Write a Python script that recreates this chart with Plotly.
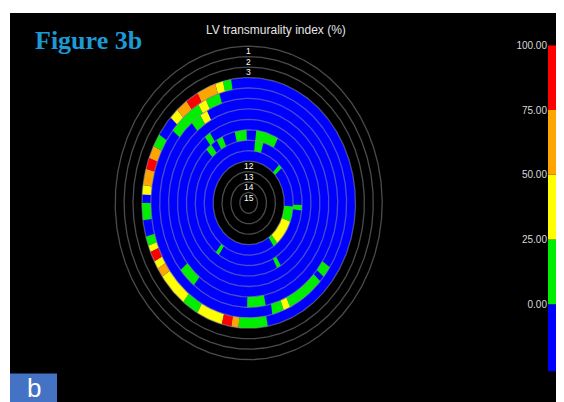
import numpy as np
import plotly.graph_objects as go

W, H = 564, 402
OFF = 8  # page offset of the figure (body margin)

# ---------------- data ----------------
# Bands numbered from the outside (1) to the centre (15); band k spans radius 15-k .. 16-k
n_rings = 15
label_rings = [1, 2, 3, 12, 13, 14, 15]
colored_rings = [4, 5, 6, 7, 8, 9, 10, 11]   # rings with transmurality data (blue = 0 %)

# scar segments: ring, start angle, end angle (deg clockwise from 12 o'clock), transmurality (%)
seg_ring = [4, 4, 4, 4, 4, 4, 4, 4, 4, 4, 4, 4, 4, 4, 4, 4, 4, 4, 4, 4, 4, 4, 4,
            5, 5, 5, 5, 5, 5, 5,
            6, 6, 6, 6,
            8,
            9, 9, 9, 9, 9,
            10, 10, 10,
            11, 11, 11, 11]
seg_start = [346, 341.7, 331.2, 324.4, 318, 313, 297, 291, 285.8, 278.2, 273.9, 262, 250, 246.9,
             242.2, 238.4, 233.9, 217.8, 208.7, 194.6, 189.4, 185.5, 169.7,
             334, 329, 309, 159, 155, 133, 124,
             327, 320, 218, 169,
             322,
             329, 317, 347, 7, 149,
             7, 92, 214,
             43, 94, 111, 140]
seg_end = [350.5, 346, 341.7, 331.2, 324.4, 318, 303, 297, 291, 285.8, 278.2, 270, 254.4, 250,
           246.9, 242.2, 238.4, 233.9, 217.8, 208.7, 194.6, 189.4, 185.5,
           342.5, 334, 329, 166, 159, 155, 130,
           332, 327, 230, 181,
           327,
           335, 323, 358, 28, 153,
           16, 97, 218,
           48, 111, 140, 146]
seg_value = [15, 40, 60, 90, 60, 40, 15, 60, 90, 60, 40, 15, 15, 40,
             90, 40, 60, 40, 15, 40, 90, 60, 15,
             15, 40, 15, 15, 40, 15, 15,
             40, 15, 15, 15,
             15,
             15, 15, 15, 15, 15,
             15, 15, 15,
             15, 15, 40, 15]

# colour scale (legend)
cb_low = [-26, 0, 25, 50, 75]
cb_high = [0, 25, 50, 75, 100]
cb_colors = ["#0000ff", "#00ee00", "#ffff00", "#ffa500", "#ff0000"]
cb_tickvals = [0, 25, 50, 75, 100]
cb_ticktext = ["0.00", "25.00", "50.00", "75.00", "100.00"]


def bin_color(v):
    if v <= 0:
        return cb_colors[0]
    for lo, hi, c in zip(cb_low, cb_high, cb_colors):
        if lo < v <= hi:
            return c
    return cb_colors[-1]


def arc_poly(r_in, r_out, a0, a1):
    n = max(int(abs(a1 - a0) * 2) + 2, 4)
    t = np.radians(np.linspace(a0, a1, n))
    xs = np.concatenate([r_out * np.sin(t), r_in * np.sin(t[::-1])])
    ys = np.concatenate([r_out * np.cos(t), r_in * np.cos(t[::-1])])
    xs = np.append(xs, xs[0])
    ys = np.append(ys, ys[0])
    return list(xs), list(ys)


def px(x):   # page x pixel -> paper fraction
    return (x - OFF) / W


def py(y):   # page y pixel -> paper fraction
    return 1 - (y - OFF) / H


fig = go.Figure()

# blue base (0 %) annulus for all data rings
r_outer = 16 - min(colored_rings)
r_inner = 15 - max(colored_rings)
t = np.radians(np.linspace(0, 360, 721))
bx = list(r_outer * np.sin(t)) + list(r_inner * np.sin(t[::-1]))
by = list(r_outer * np.cos(t)) + list(r_inner * np.cos(t[::-1]))
fig.add_trace(go.Scatter(x=bx, y=by, mode="lines", fill="toself",
                         fillcolor=bin_color(0), line=dict(width=0),
                         hoverinfo="skip", showlegend=False))

# scar segments, one trace per colour
groups = {}
for rg, a0, a1, v in zip(seg_ring, seg_start, seg_end, seg_value):
    c = bin_color(v)
    xs, ys = arc_poly(15 - rg, 16 - rg, a0, a1)
    gx, gy = groups.setdefault(c, ([], []))
    gx.extend(xs + [None])
    gy.extend(ys + [None])
for c, (gx, gy) in groups.items():
    fig.add_trace(go.Scatter(x=gx, y=gy, mode="lines", fill="toself",
                             fillcolor=c, line=dict(width=0),
                             hoverinfo="skip", showlegend=False))

# ring outlines
cx, cy = [], []
for k in range(1, n_rings + 1):
    cx.extend(list(k * np.sin(t)) + [None])
    cy.extend(list(k * np.cos(t)) + [None])
fig.add_trace(go.Scatter(x=cx, y=cy, mode="lines",
                         line=dict(color="rgba(150,150,150,0.5)", width=1.3),
                         hoverinfo="skip", showlegend=False))

# colour legend bar
fig.add_trace(go.Bar(x=[0] * len(cb_low), y=[h - l for l, h in zip(cb_low, cb_high)],
                     base=cb_low, marker=dict(color=cb_colors, line=dict(width=0)),
                     width=1, xaxis="x2", yaxis="y2", hoverinfo="skip", showlegend=False))

# geometry of the bullseye in page pixels
cxp, cyp = 248.7, 200.3
wh, wv = 8.9, 10.58
x_lo = -(cxp - OFF) / wh
x_hi = (W + OFF - cxp) / wh
y_hi = (cyp - OFF) / wv
y_lo = -(H + OFF - cyp) / wv

annotations = []
for k in label_rings:
    annotations.append(dict(x=0, y=15.5 - k, xref="x", yref="y", text=str(k),
                            xanchor="center", yanchor="middle",
                            showarrow=False, font=dict(family="Liberation Sans", size=8.5, color="#ffffff")))
annotations.append(dict(x=px(276), y=py(25), xref="paper", yref="paper",
                        xanchor="center", yanchor="middle",
                        text="LV transmurality index (%)", showarrow=False,
                        font=dict(family="Liberation Sans", size=12, color="#e6e6e6")))
annotations.append(dict(x=px(33), y=py(36), xref="paper", yref="paper", xanchor="left",
                        yanchor="middle", text="<b>Figure 3b</b>", showarrow=False,
                        font=dict(family="Liberation Serif", size=26, color="#1c9ad6")))
annotations.append(dict(x=px(33.5), y=py(388), xref="paper", yref="paper",
                        xanchor="center", yanchor="middle",
                        text="b", showarrow=False,
                        font=dict(family="Liberation Sans", size=26, color="#ffffff")))

shapes = [
    dict(type="rect", xref="paper", yref="paper", x0=px(10), x1=1, y0=0, y1=1,
         fillcolor="#000000", line=dict(width=0), layer="below"),
    dict(type="rect", xref="paper", yref="paper", x0=px(10), x1=px(57), y0=0, y1=py(373),
         fillcolor="#4472c4", line=dict(width=0), layer="below"),
]

fig.update_layout(
    width=W, height=H, margin=dict(l=0, r=0, t=0, b=0),
    paper_bgcolor="#ffffff", plot_bgcolor="rgba(0,0,0,0)",
    xaxis=dict(range=[x_lo, x_hi], domain=[0, 1], visible=False, fixedrange=True),
    yaxis=dict(range=[y_lo, y_hi], domain=[0, 1], visible=False, fixedrange=True),
    xaxis2=dict(domain=[px(548), px(557)], range=[-0.5, 0.5], visible=False, anchor="y2"),
    yaxis2=dict(domain=[py(371), py(40.7)], range=[-26, 100], anchor="x2", side="left",
                tickvals=cb_tickvals, ticktext=cb_ticktext, showgrid=False, zeroline=False,
                showline=False, ticks="", tickfont=dict(family="Liberation Sans", size=10, color="#d8d8d8")),
    annotations=annotations, shapes=shapes, showlegend=False,
)

fig.write_html("out.html")
